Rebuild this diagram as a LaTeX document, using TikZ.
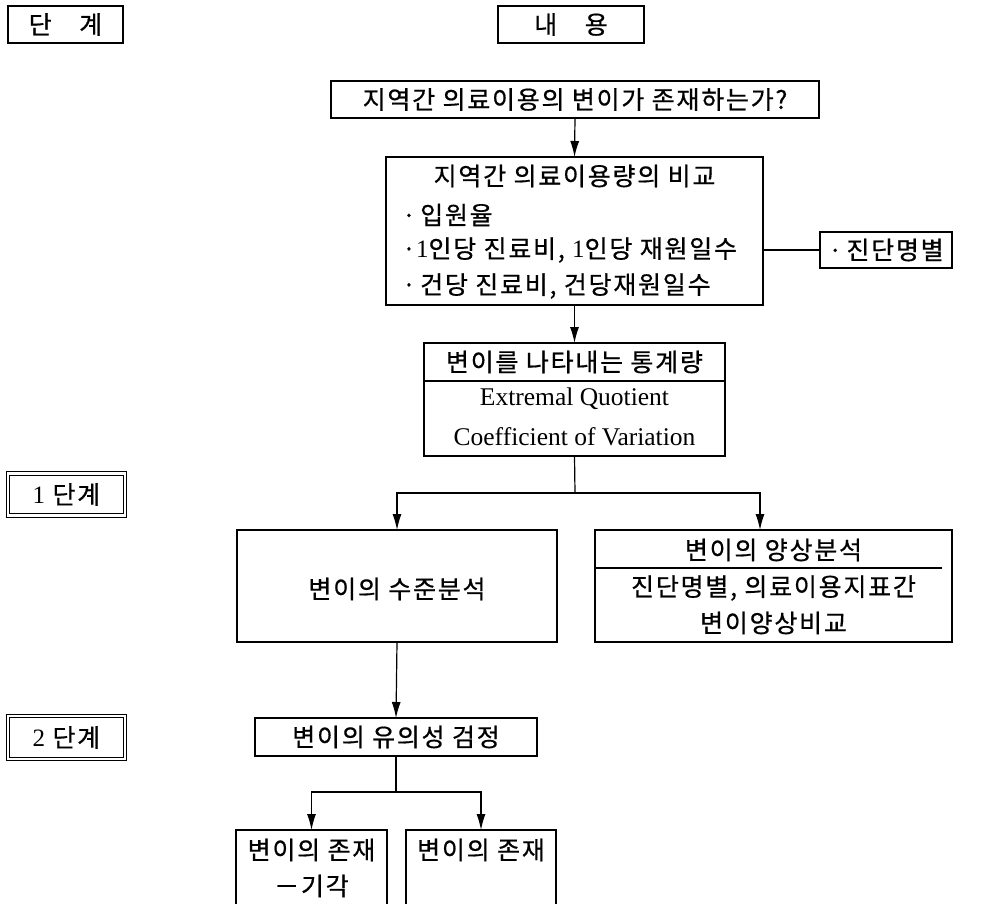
\documentclass[tikz,border=0pt]{standalone}
\usepackage{fontspec}
\setmainfont{Liberation Serif}
\newfontfamily\kr[LetterSpace=7,FakeBold=0.6]{Noto Sans CJK KR}
\usetikzlibrary{arrows.meta}
\begin{document}
\begin{tikzpicture}[x=1pt,y=-1pt,
  every node/.style={inner sep=0pt, outer sep=0pt},
  box/.style={draw, line width=1.3pt},
  dbox/.style={draw, line width=1pt, double, double distance=2.6pt},
  conn/.style={line width=1.2pt},
  arr/.style={line width=1.2pt, -{Latex[length=16pt,width=9pt]}},
  kt/.style={font=\kr\fontsize{25}{29}\selectfont},
  lt/.style={font=\rmfamily\fontsize{25.5}{30}\selectfont},
]
\useasboundingbox (0,0) rectangle (991,903);
\clip (0,0) rectangle (991,903);
% column headers
\node[box, kt, minimum width=115pt, minimum height=37pt] (s0) at (65.5,24.5) {단\hspace{1.1em}계};
\node[box, kt, minimum width=146pt, minimum height=37pt] (c0) at (571,24.5) {내\hspace{1.1em}용};
% stage labels
\node[dbox, kt, minimum width=117pt, minimum height=42pt] (st1) at (66.5,494.5) {{\rmfamily 1} 단계};
\node[dbox, kt, minimum width=117pt, minimum height=43pt] (st2) at (66.5,737.5) {{\rmfamily 2} 단계};
% question
\node[box, kt, minimum width=488pt, minimum height=37pt] (q) at (575,99.5) {지역간 의료이용의 변이가 존재하는가?};
% comparison
\node[box, minimum width=377pt, minimum height=148pt] (cmp) at (574.5,231) {};
\node[kt] (cmpT) at (574.5,176) {지역간 의료이용량의 비교};
\node[kt, anchor=west] (cmp1) at (402,215) {·\,입원율};
\node[kt, anchor=west] (cmp2) at (402,250) {·{\rmfamily 1}인당 진료비, {\rmfamily 1}인당 재원일수};
\node[kt, anchor=west] (cmp3) at (402,286) {·\,건당 진료비, 건당재원일수};
% diagnosis
\node[box, kt, minimum width=132pt, minimum height=36pt] (dx) at (886,250) {·\,진단명별};
% statistics
\node[box, minimum width=301pt, minimum height=113pt] (st) at (574.5,399.5) {};
\node[kt] (stT) at (574.5,362) {변이를 나타내는 통계량};
\node[lt] (st1t) at (574.5,399) {Extremal Quotient};
\node[lt] (st2t) at (574.5,437) {Coefficient of Variation};
% level / pattern
\node[box, minimum width=320pt, minimum height=112pt] (lv) at (397,586) {};
\node[kt] (lvT) at (397,589) {변이의 수준분석};
\node[box, minimum width=357pt, minimum height=112pt] (pt) at (773.5,586) {};
\node[kt] (ptT) at (773.5,550) {변이의 양상분석};
\node[kt] (pt1) at (773.5,588) {진단명별, 의료이용지표간};
\node[kt] (pt2) at (773.5,623) {변이양상비교};
% significance
\node[box, kt, minimum width=282pt, minimum height=38pt] (sig) at (396,737) {변이의 유의성 검정};
% results
\node[box, minimum width=151pt, minimum height=100pt] (b1) at (311.5,880) {};
\node[kt] (b1a) at (311.5,850) {변이의 존재};
\node[kt] (b1b) at (311.5,886) {－기각};
\node[box, minimum width=150pt, minimum height=100pt] (b2) at (481,880) {};
\node[kt] (b2a) at (481,850) {변이의 존재};
% inner lines
\draw[line width=1.3pt] (st.west |- 0,381) -- (st.east |- 0,381);
\draw[line width=1.3pt] (pt.west |- 0,568) -- (942,568);
% connectors
\coordinate (j1) at (575,493);
\coordinate (pa) at (760,530);
\coordinate (j2) at (396,792);
\draw[arr] (q.south) -- (cmp.north);
\draw[conn] (cmp.east |- dx.west) -- (dx.west);
\draw[arr] (cmp.south) -- (st.north);
\draw[conn] (st.south) -- (j1);
\draw[arr] (j1) -| (lv.north);
\draw[arr] (j1) -| (pa);
\draw[arr] (lv.south) -- (sig.north);
\draw[conn] (sig.south) -- (j2);
\draw[arr] (j2) -| (b1.north);
\draw[arr] (j2) -| (b2.north);
\end{tikzpicture}
\end{document}
